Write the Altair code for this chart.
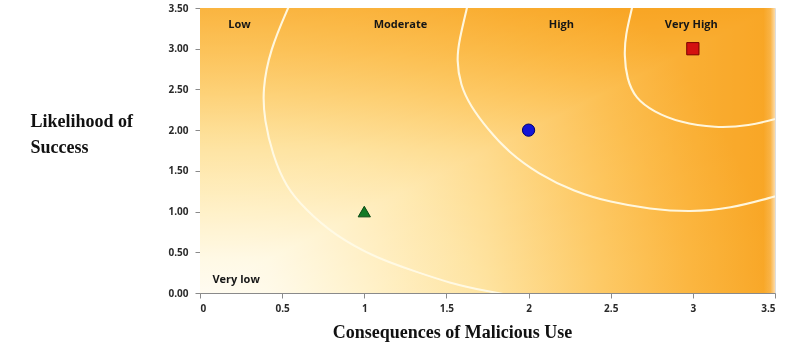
import altair as alt
import pandas as pd

# ---- data ----
risk_items = ["A", "B", "C"]
consequence = [1, 2, 3]
likelihood = [1, 2, 3]
marker_shapes = ["triangle-up", "circle", "square"]
marker_fill = ["#127a26", "#1414d6", "#d41010"]
marker_stroke = ["#0a4a14", "#000070", "#7a0000"]

zone_labels = ["Low", "Moderate", "High", "Very High", "Very low"]
zone_x = [0.24, 1.22, 2.20, 2.99, 0.22]
zone_y = [3.29, 3.29, 3.29, 3.29, 0.16]

outer_x = [0.572, 0.536, 0.426, 0.380, 0.392, 0.442, 0.524, 0.640, 0.815, 1.070, 1.325, 1.515, 1.735, 1.978]
outer_y = [3.660, 3.500, 2.984, 2.493, 2.125, 1.695, 1.300, 1.030, 0.715, 0.430, 0.255, 0.125, 0.025, -0.060]
middle_x = [1.643, 1.625, 1.578, 1.562, 1.585, 1.645, 1.752, 1.875, 2.060, 2.278, 2.496, 2.739, 2.983, 3.226, 3.488, 3.591]
middle_y = [3.660, 3.500, 3.107, 2.861, 2.554, 2.300, 2.010, 1.735, 1.460, 1.245, 1.115, 1.030, 0.995, 1.035, 1.179, 1.240]
inner_x = [2.648, 2.630, 2.590, 2.582, 2.598, 2.650, 2.762, 2.918, 3.135, 3.348, 3.500, 3.591]
inner_y = [3.660, 3.500, 3.168, 2.923, 2.630, 2.390, 2.225, 2.095, 2.025, 2.055, 2.137, 2.186]

x_ticks = [0, 0.5, 1, 1.5, 2, 2.5, 3, 3.5]
y_ticks = [0, 0.5, 1, 1.5, 2, 2.5, 3, 3.5]
domain = [0, 3.5]

# gradient colours (white corner -> orange)
grad_offsets = [0.0, 0.12, 0.3, 0.5, 0.7, 0.85, 1.0]
grad_colors = ["#ffffff", "#fffdf4", "#fff2cc", "#fee3a0", "#fdc965", "#fbb640", "#f8a524"]

# ---- tables ----
pts = pd.DataFrame({"item": risk_items, "x": consequence, "y": likelihood})
zones = pd.DataFrame({"label": zone_labels, "x": zone_x, "y": zone_y})
arc_rows = []
for name, xs, ys in [("outer", outer_x, outer_y), ("middle", middle_x, middle_y), ("inner", inner_x, inner_y)]:
    for i, (a, b) in enumerate(zip(xs, ys)):
        arc_rows.append({"arc": name, "i": i, "x": a, "y": b})
arcs_df = pd.DataFrame(arc_rows)
bg = pd.DataFrame({"x": [domain[0]], "x2": [domain[1]], "y": [domain[0]], "y2": [domain[1]]})
edge = pd.DataFrame({"x": [domain[1] - 0.07], "x2": [domain[1]], "y": [domain[0]], "y2": [domain[1]]})

xscale = alt.Scale(domain=domain, nice=False, zero=False)
yscale = alt.Scale(domain=domain, nice=False, zero=False)

xaxis = alt.Axis(
    values=x_ticks, format="~g", grid=False,
    labelFont="Open Sans", labelFontWeight="bold", labelFontSize=10, labelColor="#2a2a2a",
    labelPadding=5, tickSize=5, tickColor="#8a8a8a", domainColor="#8a8a8a",
    titleFont="Liberation Serif", titleFontSize=18, titleFontWeight="bold", titleColor="#111111",
    titleX=252, titleY=39, titleAlign="center", titleBaseline="middle",
)
yaxis = alt.Axis(
    values=y_ticks, format=".2f", grid=False,
    labelFont="Open Sans", labelFontWeight="bold", labelFontSize=10, labelColor="#2a2a2a",
    labelPadding=7, tickSize=5, tickColor="#8a8a8a", domainColor="#8a8a8a",
    titleFont="Liberation Serif", titleFontSize=18, titleFontWeight="bold", titleColor="#111111",
    titleAngle=0, titleX=-170, titleY=113, titleAlign="left", titleBaseline="middle",
    titleLineHeight=26,
)

X = lambda f: alt.X(f, type="quantitative", scale=xscale, axis=xaxis, title="Consequences of Malicious Use")
Y = lambda f: alt.Y(f, type="quantitative", scale=yscale, axis=yaxis, title=["Likelihood of", "Success"])

stops = [{"offset": o, "color": c} for o, c in zip(grad_offsets, grad_colors)]
grad_h = {"gradient": "linear", "x1": 0, "y1": 0, "x2": 1, "y2": 0, "stops": stops}
grad_v = {"gradient": "linear", "x1": 0, "y1": 1, "x2": 0, "y2": 0, "stops": stops}
grad_r = {"gradient": "radial", "x1": 0.04, "y1": 0.96, "r1": 0, "x2": 0.04, "y2": 0.96, "r2": 1.0, "stops": stops}
grad_edge = {"gradient": "linear", "x1": 0, "y1": 0, "x2": 1, "y2": 0,
             "stops": [{"offset": 0, "color": "rgba(255,255,255,0)"},
                       {"offset": 0.6, "color": "rgba(255,255,255,0.15)"},
                       {"offset": 1, "color": "rgba(255,255,255,0.6)"}]}

enc = dict(x=X("x"), x2="x2", y=Y("y"), y2="y2")
bg_h = alt.Chart(bg).mark_rect(fill=grad_h).encode(**enc)
bg_v = alt.Chart(bg).mark_rect(fill=grad_v, blend="darken").encode(**enc)
bg_r = alt.Chart(bg).mark_rect(fill=grad_r, opacity=0.45).encode(**enc)
bg_edge = alt.Chart(edge).mark_rect(fill=grad_edge).encode(**enc)

arcs = alt.Chart(arcs_df).mark_line(
    clip=True, interpolate="basis", stroke="#fffae6", strokeWidth=2.1, opacity=0.95
).encode(x=X("x"), y=Y("y"), detail="arc:N", order="i:Q")

points = alt.Chart(pts).mark_point(filled=True, size=150, strokeWidth=1, opacity=1).encode(
    x=X("x"), y=Y("y"),
    shape=alt.Shape("item:N", scale=alt.Scale(domain=risk_items, range=marker_shapes), legend=None),
    fill=alt.Fill("item:N", scale=alt.Scale(domain=risk_items, range=marker_fill), legend=None),
    stroke=alt.Stroke("item:N", scale=alt.Scale(domain=risk_items, range=marker_stroke), legend=None),
)

labels = alt.Chart(zones).mark_text(
    font="Open Sans", fontWeight="bold", fontSize=11, color="#161616"
).encode(x=X("x"), y=Y("y"), text="label:N")

chart = alt.layer(bg_h, bg_v, bg_r, bg_edge, arcs, points, labels).properties(
    width=575, height=285,
    autosize=alt.AutoSizeParams(type="none"),
    padding={"left": 200, "top": 8, "right": 16, "bottom": 59},
).configure_view(stroke=None).configure(background="white")

chart.save("out.html", embed_options={"renderer": "svg", "actions": False})
